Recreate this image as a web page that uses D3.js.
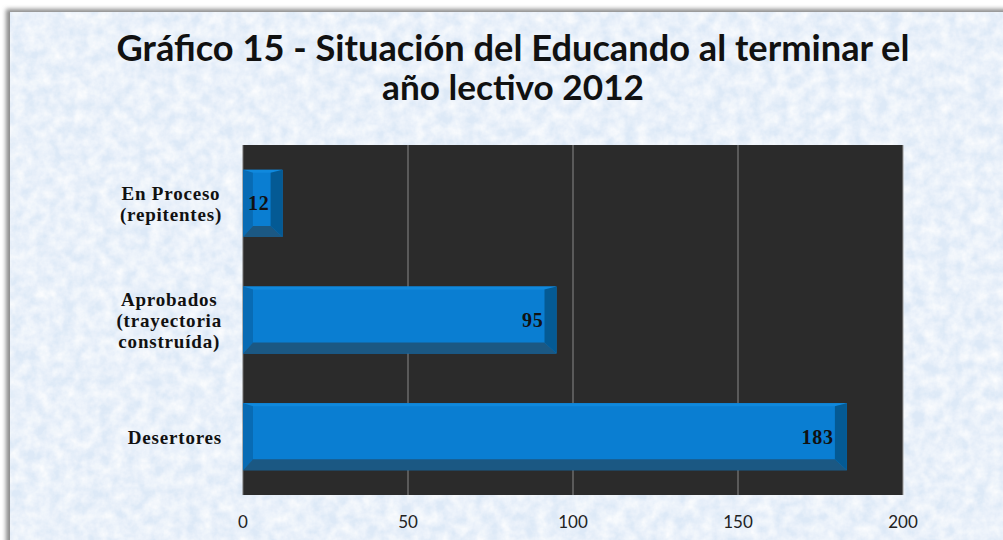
<!DOCTYPE html>
<html>
<head>
  <meta charset="utf-8">
  <title>Gráfico 15</title>
  <script src="https://d3js.org/d3.v7.min.js"></script>
  <style>
    body { margin: 0; background: #fff; }
    .tick-label { font-family: Lato, "Open Sans", sans-serif; font-size: 17px; fill: #222; }
    .cat-label { font-family: "Liberation Serif", "DejaVu Serif", serif; font-weight: bold; font-size: 19px; letter-spacing: 0.8px; fill: #111; }
    .val-label { font-family: "Liberation Serif", "DejaVu Serif", serif; font-weight: bold; font-size: 20px; letter-spacing: 0.8px; fill: #111; }
    .title { font-family: Lato, "Open Sans", sans-serif; font-weight: bold; font-size: 34px; fill: #111; }
  </style>
</head>
<body>
<svg id="chart" width="1003" height="540"></svg>
<script>
  // chart data
  const categories = [
    ["En Proceso", "(repitentes)"],
    ["Aprobados", "(trayectoria", "construída)"],
    ["Desertores"]
  ];
  const values = [12, 95, 183];
  const xTicks = [0, 50, 100, 150, 200];
  const titleLines = ["Gráfico 15 - Situación del Educando al terminar el", "año lectivo 2012"];

  const svg = d3.select("#chart");
  const W = 1003, H = 540;
  const plot = { left: 243, right: 903, top: 145, bottom: 495 };

  const defs = svg.append("defs");

  // paper-like blue texture for the frame
  const tex = defs.append("filter").attr("id", "paper")
    .attr("x", 0).attr("y", 0).attr("width", "100%").attr("height", "100%");
  tex.append("feTurbulence").attr("type", "fractalNoise")
    .attr("baseFrequency", "0.08").attr("numOctaves", 4).attr("seed", 7).attr("result", "noise");
  tex.append("feColorMatrix").attr("in", "noise").attr("type", "matrix")
    .attr("values", "0 0 0 0 1  0 0 0 0 1  0 0 0 0 1  0 0 0 1.3 -0.3").attr("result", "white");
  tex.append("feComposite").attr("in", "white").attr("in2", "SourceGraphic").attr("operator", "atop");

  const shadow = defs.append("filter").attr("id", "edge")
    .attr("x", "-5%").attr("y", "-5%").attr("width", "110%").attr("height", "110%");
  shadow.append("feGaussianBlur").attr("stdDeviation", 2);

  // frame shadow + background
  svg.append("rect").attr("x", 6).attr("y", 9).attr("width", W).attr("height", H)
    .attr("fill", "#8c8c8c").attr("filter", "url(#edge)");
  svg.append("rect").attr("x", 10).attr("y", 12).attr("width", W).attr("height", H)
    .attr("fill", "#dde9f7").attr("filter", "url(#paper)");

  // title
  const title = svg.append("g");
  const titleY = [61, 100];
  const titleW = [793, 262];
  titleLines.forEach((t, i) => {
    const el = title.append("text").attr("class", "title")
      .attr("x", 513).attr("y", titleY[i]).attr("text-anchor", "middle").text(t);
    const w = el.node().getComputedTextLength();
    el.style("font-size", (34 * titleW[i] / w).toFixed(2) + "px");
  });

  // scales
  const x = d3.scaleLinear().domain([0, 200]).range([plot.left, plot.right]);
  const y = d3.scaleBand().domain(d3.range(categories.length))
    .range([plot.top, plot.bottom]).paddingInner(0.425).paddingOuter(0.2125);

  // plot area
  svg.append("rect").attr("x", plot.left).attr("y", plot.top)
    .attr("width", plot.right - plot.left).attr("height", plot.bottom - plot.top)
    .attr("fill", "#2b2b2b");

  // grid lines
  svg.append("g").selectAll("line").data(xTicks.slice(1)).join("line")
    .attr("x1", d => x(d)).attr("x2", d => x(d))
    .attr("y1", plot.top).attr("y2", plot.bottom)
    .attr("stroke", d => d === 200 ? "#9a9a9a" : "#8a8a8a").attr("stroke-width", 1);
  svg.append("line").attr("x1", plot.left).attr("x2", plot.left)
    .attr("y1", plot.top).attr("y2", plot.bottom).attr("stroke", "#6f6f6f");

  // bevelled bars
  const bw = 12, bt = 3, bb = 11, bl = 10;
  const bars = svg.append("g").selectAll("g").data(values).join("g");
  bars.each(function (v, i) {
    const g = d3.select(this);
    const x0 = x(0), x1 = x(v), y0 = y(i), y1 = y(i) + y.bandwidth();
    const br = Math.min(bw, (x1 - x0) / 2.6), bl2 = Math.min(bl, (x1 - x0) / 4);
    const pts = a => a.map(p => p.join(",")).join(" ");
    // face
    g.append("rect").attr("x", x0).attr("y", y0).attr("width", x1 - x0).attr("height", y1 - y0)
      .attr("fill", "#0a7ed2");
    // top bevel
    g.append("polygon").attr("fill", "#1089dd")
      .attr("points", pts([[x0, y0], [x1, y0], [x1 - br, y0 + bt], [x0 + bl2, y0 + bt]]));
    // left bevel
    g.append("polygon").attr("fill", "#086bb4")
      .attr("points", pts([[x0, y0], [x0 + bl2, y0 + bt], [x0 + bl2, y1 - bb], [x0, y1]]));
    // bottom bevel
    g.append("polygon").attr("fill", "#1b5883")
      .attr("points", pts([[x0, y1], [x0 + bl2, y1 - bb], [x1 - br, y1 - bb], [x1, y1]]));
    // right bevel
    g.append("polygon").attr("fill", "#045a94")
      .attr("points", pts([[x1, y0], [x1, y1], [x1 - br, y1 - bb], [x1 - br, y0 + bt]]));
    // value label
    g.append("text").attr("class", "val-label")
      .attr("x", x1 - br - 1).attr("y", (y0 + y1) / 2 + 7)
      .attr("text-anchor", "end").text(v);
  });

  // category labels, blocks centred then right-aligned at x = 222
  const lineH = 21;
  const cats = svg.append("g").selectAll("text").data(categories).join("text")
    .attr("class", "cat-label")
    .attr("text-anchor", "middle");
  cats.each(function (lines, i) {
    const t = d3.select(this);
    lines.forEach((l, k) => {
      t.append("tspan").attr("x", 0).attr("y", k * lineH).text(l);
    });
    const box = this.getBBox();
    const cy = y(i) + y.bandwidth() / 2 + 7 - (lines.length - 1) * lineH / 2;
    t.attr("transform", `translate(${222 - box.x - box.width},${cy})`);
  });

  // x axis labels
  svg.append("g").selectAll("text").data(xTicks).join("text")
    .attr("class", "tick-label")
    .attr("x", d => x(d)).attr("y", 528)
    .attr("text-anchor", "middle").text(d => d);
</script>
</body>
</html>
